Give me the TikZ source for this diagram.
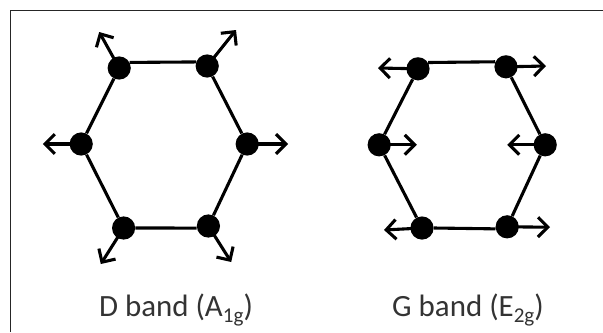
\documentclass[tikz,border=0pt]{standalone}
\usepackage{fontspec}
\setmainfont{Carlito}
\usetikzlibrary{arrows.meta}
\newcommand{\bandsub}[1]{\raisebox{-0.42ex}{\fontsize{15}{15}\selectfont #1}}
\tikzset{
  atom/.style={circle, fill=black, inner sep=0pt, minimum size=0.58cm},
  bond/.style={line width=2.2pt},
  mode/.style={line width=2.2pt, -{Straight Barb[length=7pt,width=14pt,line width=2.2pt]}},
  bandlabel/.style={inner sep=0pt, text=black!80, font=\fontsize{22}{24}\selectfont}
}
\begin{document}
\begin{tikzpicture}[x=1cm,y=1cm]
\useasboundingbox (0,0) rectangle (15.075,8.3);
\coordinate (fa) at (0.25,0);
\coordinate (fb) at (0.25,8.05);
\coordinate (fc) at (15.075,8.05);
\draw[line width=0.7pt, black!85] (fa) -- (fb) -- (fc);
% D band
\coordinate (d1e) at (2.48,7.50);
\coordinate (d2e) at (5.90,7.55);
\coordinate (d3e) at (7.20,4.70);
\coordinate (d4e) at (5.78,1.75);
\coordinate (d5e) at (2.52,1.70);
\coordinate (d6e) at (1.07,4.70);
\node[atom] (d1) at (2.98,6.60) {};
\node[atom] (d2) at (5.18,6.65) {};
\node[atom] (d3) at (6.18,4.70) {};
\node[atom] (d4) at (5.21,2.65) {};
\node[atom] (d5) at (3.09,2.60) {};
\node[atom] (d6) at (2.03,4.70) {};
\draw[bond] (d1.28) -- (d2.160);
\draw[bond] (d4.190) -- (d5.0);
\draw[bond] (d2) -- (d3) -- (d4);
\draw[bond] (d5) -- (d6) -- (d1);
\draw[mode] (d1.center) -- (d1e);
\draw[mode] (d2.center) -- (d2e);
\draw[mode] (d3.center) -- (d3e);
\draw[mode] (d4.center) -- (d4e);
\draw[mode] (d5.center) -- (d5e);
\draw[mode] (d6.center) -- (d6e);
\node[bandlabel] (dl) at (4.40,0.56) {D band (A\bandsub{1g})};
% G band
\coordinate (g1e) at (9.45,6.60);
\coordinate (g2e) at (13.65,6.65);
\coordinate (g3e) at (12.68,4.68);
\coordinate (g4e) at (13.75,2.62);
\coordinate (g5e) at (9.60,2.55);
\coordinate (g6e) at (10.42,4.68);
\node[atom] (g1) at (10.45,6.58) {};
\node[atom] (g2) at (12.65,6.63) {};
\node[atom] (g3) at (13.63,4.68) {};
\node[atom] (g4) at (12.68,2.63) {};
\node[atom] (g5) at (10.55,2.60) {};
\node[atom] (g6) at (9.48,4.68) {};
\draw[bond] (g1.32) -- (g2.155);
\draw[bond] (g4.190) -- (g5.0);
\draw[bond] (g2) -- (g3) -- (g4);
\draw[bond] (g5) -- (g6) -- (g1);
\draw[mode] (g1.center) -- (g1e);
\draw[mode] (g2.center) -- (g2e);
\draw[mode] (g3.center) -- (g3e);
\draw[mode] (g4.center) -- (g4e);
\draw[mode] (g5.center) -- (g5e);
\draw[mode] (g6.center) -- (g6e);
\node[bandlabel] (gl) at (11.70,0.56) {G band (E\bandsub{2g})};
\end{tikzpicture}
\end{document}
